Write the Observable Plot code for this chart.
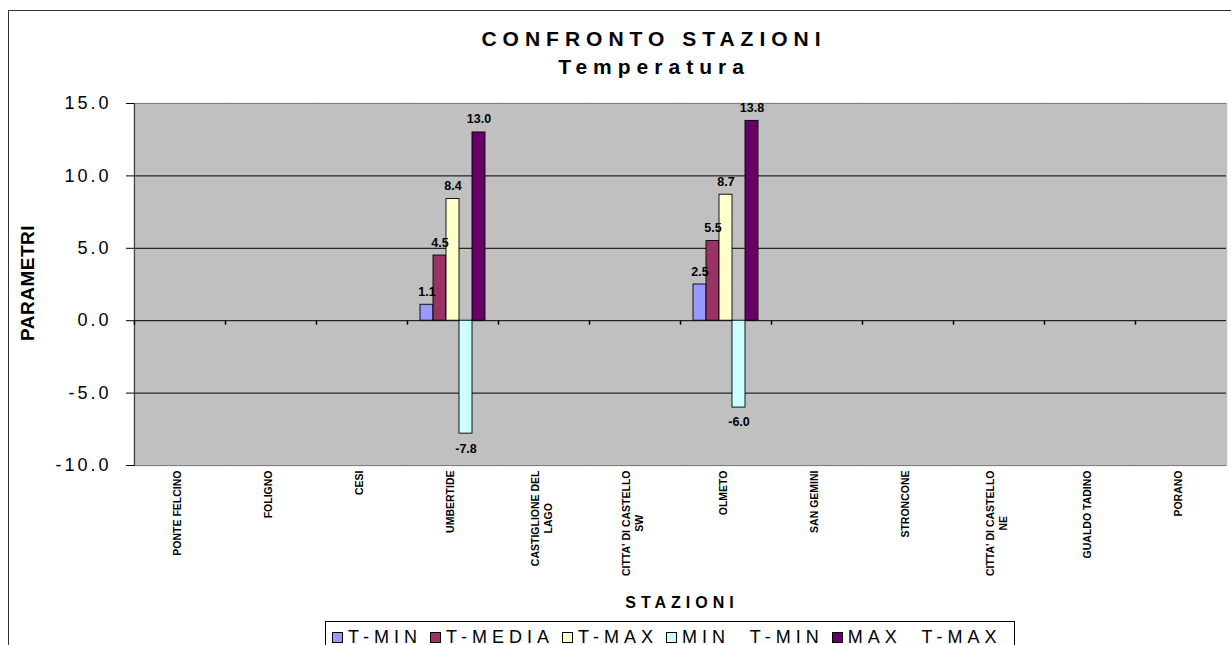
<!DOCTYPE html>
<html>
<head>
<meta charset="utf-8">
<script src="https://cdn.jsdelivr.net/npm/d3@7"></script>
<script src="https://cdn.jsdelivr.net/npm/@observablehq/plot@0.6"></script>
<style>
  html, body { margin: 0; padding: 0; background: #fff; overflow: hidden; }
  body { width: 1231px; height: 645px; position: relative; font-family: "Liberation Sans", Arial, sans-serif; color: #000; }
  #border { position: absolute; left: 8px; top: 10px; width: 1300px; height: 700px; border: 1px solid #333; box-sizing: border-box; }
  #chart { position: absolute; left: 0; top: 0; }
  #title { position: absolute; left: 404px; width: 500px; top: 25px; text-align: center; font-weight: bold; font-size: 21px; letter-spacing: 6px; line-height: 28px; }
  #ylabel { position: absolute; left: 28px; top: 283px; transform: translate(-50%, -50%) rotate(-90deg); font-weight: bold; font-size: 19px; letter-spacing: 0.5px; white-space: nowrap; }
  #xlabel { position: absolute; left: 482px; width: 400px; top: 594px; text-align: center; font-weight: bold; font-size: 16px; letter-spacing: 5px; }
  #legend { position: absolute; left: 325px; top: 621px; width: 690px; height: 60px; border: 1px solid #000; box-sizing: border-box; padding: 5px 0 0 6px; display: flex; align-items: flex-start; font-size: 18px; letter-spacing: 5px; white-space: pre; line-height: 20px; }
  .item { display: flex; align-items: center; margin-right: 8px; height: 20px; }
  .sw { width: 9px; height: 9px; border: 1px solid #000; margin-right: 5px; }
  svg text { font-family: "Liberation Sans", Arial, sans-serif; }
  g[aria-label="y-axis tick label"] text { font-size: 18px; letter-spacing: 3px; }
</style>
</head>
<body>
<div id="border"></div>
<div id="chart"></div>
<div id="title">CONFRONTO STAZIONI<br>Temperatura</div>
<div id="ylabel">PARAMETRI</div>
<div id="xlabel">STAZIONI</div>
<div id="legend"></div>
<script>
const stations = ["PONTE FELCINO", "FOLIGNO", "CESI", "UMBERTIDE", "CASTIGLIONE DEL LAGO", "CITTA' DI CASTELLO SW", "OLMETO", "SAN GEMINI", "STRONCONE", "CITTA' DI CASTELLO NE", "GUALDO TADINO", "PORANO"];
const stationLabels = ["PONTE FELCINO", "FOLIGNO", "CESI", "UMBERTIDE", "CASTIGLIONE DEL\nLAGO", "CITTA' DI CASTELLO\nSW", "OLMETO", "SAN GEMINI", "STRONCONE", "CITTA' DI CASTELLO\nNE", "GUALDO TADINO", "PORANO"];
const series = ["T-MIN", "T-MEDIA", "T-MAX", "MIN  T-MIN", "MAX  T-MAX"];
const seriesColors = ["#9999FF", "#993366", "#FFFFCC", "#CCFFFF", "#660066"];
const tMin     = [null, null, null, 1.1, null, null, 2.5, null, null, null, null, null];
const tMedia   = [null, null, null, 4.5, null, null, 5.5, null, null, null, null, null];
const tMax     = [null, null, null, 8.4, null, null, 8.7, null, null, null, null, null];
const minTMin  = [null, null, null, -7.8, null, null, -6.0, null, null, null, null, null];
const maxTMax  = [null, null, null, 13.0, null, null, 13.8, null, null, null, null, null];
const yTicks = [-10, -5, 0, 5, 10, 15];

const seriesValues = [tMin, tMedia, tMax, minTMin, maxTMax];
const data = [];
series.forEach((s, i) => {
  seriesValues[i].forEach((v, j) => {
    if (v !== null) data.push({station: stations[j], series: s, value: v});
  });
});
const labelOf = new Map(stations.map((s, i) => [s, stationLabels[i]]));
const fmt = d => d.toFixed(1);

const tickSymbol = { draw(ctx) { ctx.moveTo(0, 0); ctx.lineTo(0, 4); } };

const plot = Plot.plot({
  width: 1231,
  height: 645,
  marginLeft: 129,
  marginRight: 0,
  marginTop: 103,
  marginBottom: 180,
  style: { background: "transparent", fontFamily: "Liberation Sans, Arial, sans-serif", overflow: "visible" },
  fx: { domain: stations, padding: 0, axis: null },
  x: { domain: series, paddingInner: 0, paddingOuter: 0.78, axis: null },
  y: { domain: [-10, 15], axis: null },
  color: { domain: series, range: seriesColors },
  marks: [
    Plot.frame({ fill: "#c0c0c0", stroke: "#c0c0c0", strokeWidth: 1.5 }),
    Plot.ruleY([-5, 0, 5, 10], { stroke: "#000", strokeWidth: 1 }),
    Plot.ruleY([-10, 15], { stroke: "#808080", strokeWidth: 1.2 }),
    Plot.frame({ anchor: "left", facetAnchor: "left", stroke: "#404040", strokeWidth: 1.2 }),
    Plot.dot([0], { y: d => d, frameAnchor: "left", symbol: tickSymbol, stroke: "#000", fill: "none" }),
    Plot.axisY({ ticks: yTicks, tickFormat: fmt, tickSize: 8, tickPadding: 15, label: null, stroke: "#000" }),
    Plot.barY(data, { fx: "station", x: "series", y: "value", fill: "series", stroke: "#000", strokeWidth: 0.9 }),
    Plot.text(data, { filter: d => d.value >= 0, fx: "station", x: "series", y: "value", text: d => fmt(d.value), lineAnchor: "bottom", dy: -9, fontWeight: "bold", fontSize: 12.5 }),
    Plot.text(data, { filter: d => d.value < 0, fx: "station", x: "series", y: "value", text: d => fmt(d.value), lineAnchor: "top", dy: 10, fontWeight: "bold", fontSize: 12.5 }),
    Plot.text(stations, { fx: d => d, text: d => labelOf.get(d), frameAnchor: "bottom", rotate: -90, textAnchor: "end", lineAnchor: "middle", lineHeight: 1.3, dy: 5, dx: -3, fontWeight: "bold", fontSize: 10.5 })
  ]
});
document.getElementById("chart").appendChild(plot);

// center the second line of two-line station labels under the first
plot.querySelectorAll("text").forEach(t => {
  const spans = t.querySelectorAll("tspan");
  if (spans.length === 2) {
    const l1 = spans[0].getComputedTextLength();
    const l2 = spans[1].getComputedTextLength();
    spans[1].setAttribute("x", -l1 / 2 + l2 / 2);
  }
});

// legend
const legend = document.getElementById("legend");
series.forEach((s, i) => {
  const item = document.createElement("div");
  item.className = "item";
  const sw = document.createElement("div");
  sw.className = "sw";
  sw.style.background = seriesColors[i];
  const lab = document.createElement("span");
  lab.textContent = s;
  item.appendChild(sw);
  item.appendChild(lab);
  legend.appendChild(item);
});
</script>
</body>
</html>
